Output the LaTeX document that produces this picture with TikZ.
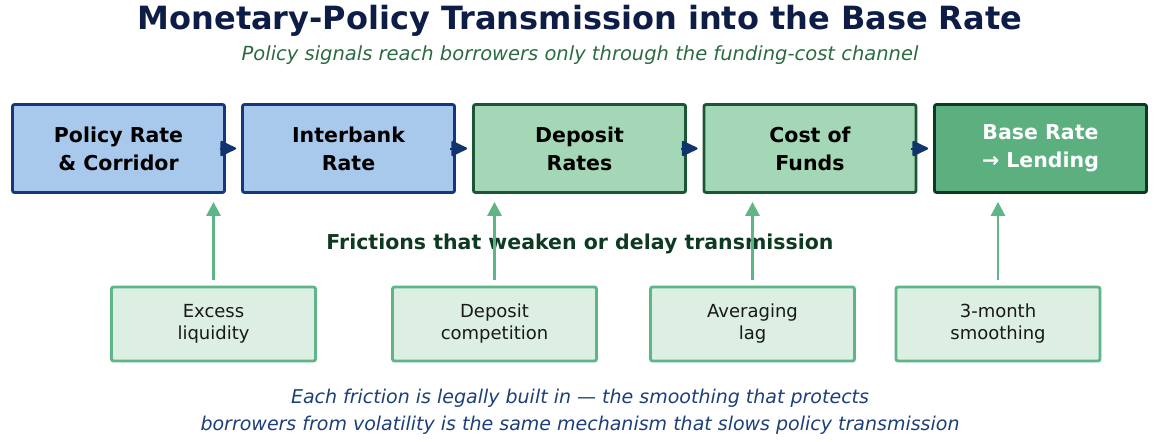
\documentclass[tikz,border=0pt]{standalone}
\usepackage{fontspec}
\setmainfont{DejaVu Sans}
\usetikzlibrary{arrows.meta}
\definecolor{titlenavy}{HTML}{0E1D45}
\definecolor{subgreen}{HTML}{2A6B40}
\definecolor{bluefill}{HTML}{A8C8EC}
\definecolor{blueline}{HTML}{13397A}
\definecolor{greenfill}{HTML}{A3D7B5}
\definecolor{greenline}{HTML}{1B5734}
\definecolor{basefill}{HTML}{5CB07F}
\definecolor{baseline}{HTML}{0D3B22}
\definecolor{arrnavy}{HTML}{10356C}
\definecolor{fricdark}{HTML}{0F3A22}
\definecolor{lightfill}{HTML}{DCEFE2}
\definecolor{lightline}{HTML}{5EB585}
\definecolor{capnavy}{HTML}{1C3F7A}
\tikzset{
  stage/.style={draw, line width=2.8pt, rounded corners=2pt, minimum width=212pt, minimum height=88pt, inner sep=0pt,
    align=center, font=\fontsize{20.5}{28}\selectfont\bfseries},
  bluestage/.style={stage, fill=bluefill, draw=blueline, text=black},
  greenstage/.style={stage, fill=greenfill, draw=greenline, text=black},
  basestage/.style={stage, fill=basefill, draw=baseline, text=white},
  friction/.style={draw=lightline, fill=lightfill, line width=2.8pt, rounded corners=2pt, minimum width=204pt, minimum height=74pt,
    inner sep=0pt, align=center, font=\fontsize{18}{22}\selectfont, text=black!90},
  flow/.style={draw=arrnavy, line width=2pt, -{Triangle[length=17pt,width=16pt,round]}},
  push/.style={draw=lightline, line width=2.8pt, -{Triangle[length=14pt,width=14pt]}, shorten <=6pt, shorten >=8pt},
}
\begin{document}
\begin{tikzpicture}[x=1pt,y=-1pt]
\useasboundingbox (0,0) rectangle (1160,442);
\node[font=\fontsize{32}{38}\selectfont\bfseries, text=titlenavy] (title) at (580,21) {Monetary-Policy Transmission into the Base Rate};
\node[font=\fontsize{19.5}{24}\selectfont\itshape, text=subgreen] (sub) at (580,55) {Policy signals reach borrowers only through the funding-cost channel};

\node[bluestage] (s1) at (118.5,148.5) {Policy Rate\\\& Corridor};
\node[bluestage] (s2) at (348.5,148.5) {Interbank\\Rate};
\node[greenstage] (s3) at (579.5,148.5) {Deposit\\Rates};
\node[greenstage] (s4) at (810,148.5) {Cost of\\Funds};
\node[basestage] (s5) at (1040.5,148.5) {Base Rate\\→ Lending};

\draw[flow] ([xshift=-6pt]s1.east) -- ([xshift=-5pt]s2.west);
\draw[flow] ([xshift=-6pt]s2.east) -- ([xshift=-5pt]s3.west);
\draw[flow] ([xshift=-6pt]s3.east) -- ([xshift=-5pt]s4.west);
\draw[flow] ([xshift=-6pt]s4.east) -- ([xshift=-5pt]s5.west);

\node[font=\fontsize{20.5}{24}\selectfont\bfseries, text=fricdark] (fric) at (580,244) {Frictions that weaken or delay transmission};

\node[friction] (f1) at (213.5,324) {Excess\\liquidity};
\node[friction] (f2) at (494.5,324) {Deposit\\competition};
\node[friction] (f3) at (752.5,324) {Averaging\\lag};
\node[friction] (f4) at (998,324) {3-month\\smoothing};

\draw[push] (f1.north) -- (f1.north |- s1.south);
\draw[push] (f2.north) -- (f2.north |- s3.south);
\draw[push] (f3.north) -- (f3.north |- s4.south);
\draw[push] (f4.north) -- (f4.north |- s5.south);

\node[font=\fontsize{19}{27}\selectfont\itshape, text=capnavy, align=center] (cap) at (580,411.5) {Each friction is legally built in — the smoothing that protects\\borrowers from volatility is the same mechanism that slows policy transmission};
\end{tikzpicture}
\end{document}
